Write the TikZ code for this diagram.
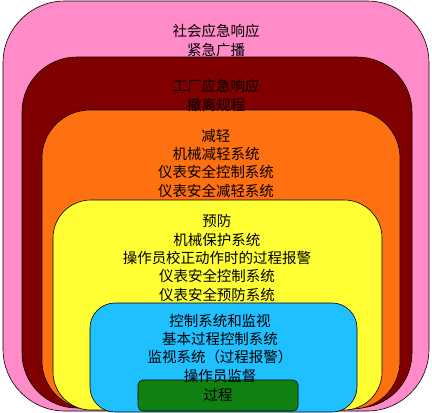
\documentclass[tikz,border=0pt]{standalone}
\usepackage{fontspec}
\setmainfont{Noto Sans CJK SC}
\usepackage{xcolor}
\definecolor{layerpink}{RGB}{255,140,200}
\definecolor{layerred}{RGB}{128,0,0}
\definecolor{layerorange}{RGB}{255,112,16}
\definecolor{layeryellow}{RGB}{255,255,51}
\definecolor{layerblue}{RGB}{30,192,255}
\definecolor{layergreen}{RGB}{16,128,16}
\tikzset{
  layer/.style={draw=black, line width=0.6pt},
  lbl/.style={align=center, inner sep=0pt, anchor=base,
    font=\fontsize{14.5}{18.3}\selectfont}
}

\begin{document}
\begin{tikzpicture}[x=1pt,y=-1pt]
            \useasboundingbox (0,0) rectangle (432,413);
            % Nested layers, outside in
            \draw[layer, fill=layerpink, rounded corners=62] (3,1) rectangle (429,411);
            \draw[layer, fill=layerred, rounded corners=55] (22,57) rectangle (412,408);
            \draw[layer, fill=layerorange, rounded corners=48] (42,110) rectangle (400,409);
            \draw[layer, fill=layeryellow, rounded corners=38] (53,200) rectangle (382,410);
            \draw[layer, fill=layerblue, rounded corners=25] (90,303) rectangle (357,412);
            \draw[layer, fill=layergreen, rounded corners=5] (138,380) rectangle (298,411);

            % Labels of the layers (placed by their last line)
            \node[lbl] (social) at (216,55) {社会应急响应\\紧急广播};
            \node[lbl] (plant) at (216,110) {工厂应急响应\\撤离规程};
            \node[lbl] (mitigate) at (216,196) {减轻\\机械减轻系统\\仪表安全控制系统\\仪表安全减轻系统};
            \node[lbl] (prevent) at (217,300) {预防\\机械保护系统\\操作员校正动作时的过程报警\\仪表安全控制系统\\仪表安全预防系统};
            \node[lbl] (control) at (220,381) {控制系统和监视\\基本过程控制系统\\监视系统（过程报警）\\操作员监督};
            \node[lbl] (process) at (218,400) {过程};
        \end{tikzpicture}
\end{document}
